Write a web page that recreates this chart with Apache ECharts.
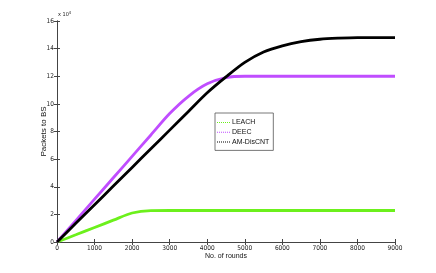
<!DOCTYPE html>
<html><head><meta charset="utf-8">
<script src="https://cdn.jsdelivr.net/npm/echarts@6/dist/echarts.min.js"></script>
<style>html,body{margin:0;padding:0;background:#fff}#c{width:436px;height:273px}</style>
</head><body><div id="c"></div>
<script>
// values in units of 10^4 packets
const rounds = [0, 500, 1000, 1500, 2000, 2500, 3000, 3500, 4000, 4500, 5000, 5500, 6000, 6500, 7000, 7500, 8000, 8500, 9000];
const leach  = [0, 0.52, 1.05, 1.58, 2.1, 2.27, 2.28, 2.28, 2.28, 2.28, 2.28, 2.28, 2.28, 2.28, 2.28, 2.28, 2.28, 2.28, 2.28];
const deec   = [0, 1.55, 3.1, 4.65, 6.2, 7.75, 9.3, 10.55, 11.45, 11.9, 12.0, 12.0, 12.0, 12.0, 12.0, 12.0, 12.0, 12.0, 12.0];
const amdis  = [0, 1.35, 2.7, 4.05, 5.4, 6.75, 8.1, 9.45, 10.8, 11.95, 13.0, 13.75, 14.2, 14.5, 14.68, 14.76, 14.8, 14.8, 14.8];
const yTicks = [0, 2, 4, 6, 8, 10, 12, 14, 16];
const xTicks = [0, 1000, 2000, 3000, 4000, 5000, 6000, 7000, 8000, 9000];
const names = ['LEACH', 'DEEC', 'AM-DisCNT'];
const colors = ['#6cf01c', '#c04dff', '#000000'];

const F = "'Liberation Sans Narrow','DejaVu Sans Condensed','Liberation Sans',sans-serif";
const axisCol = '#444';
const pair = arr => rounds.map((r, i) => [r, arr[i]]);
const dotIcon = 'path://M0,0h1v1h-1zM2,0h1v1h-1zM4,0h1v1h-1zM6,0h1v1h-1zM8,0h1v1h-1zM10,0h1v1h-1zM12,0h1v1h-1z';

const chart = echarts.init(document.getElementById('c'));
const baseX = {
  type: 'value', min: xTicks[0], max: xTicks[xTicks.length - 1], interval: 1000,
  axisLine: { show: true, lineStyle: { color: axisCol, width: 1 } },
  axisTick: { show: true, inside: true, length: 3, lineStyle: { color: axisCol } },
  splitLine: { show: false }
};
const baseY = {
  type: 'value', min: yTicks[0], max: yTicks[yTicks.length - 1], interval: 2,
  axisLine: { show: true, lineStyle: { color: axisCol, width: 1 } },
  axisTick: { show: true, inside: true, length: 3, lineStyle: { color: axisCol } },
  splitLine: { show: false }
};
chart.setOption({
  animation: false,
  backgroundColor: '#fff',
  grid: { left: 57, top: 21, right: 41, bottom: 31 },
  xAxis: [
    Object.assign({}, baseX, {
      position: 'bottom', name: 'No. of rounds', nameLocation: 'middle', nameGap: 11,
      nameMoveOverlap: false,
      nameTextStyle: { fontFamily: 'Liberation Sans', fontSize: 7, color: '#111' },
      axisLabel: { fontFamily: F, fontSize: 6.5, color: '#222', margin: 3, formatter: v => String(v) }
    }),
    Object.assign({}, baseX, { position: 'top', axisLabel: { show: false } })
  ],
  yAxis: [
    Object.assign({}, baseY, {
      position: 'left', name: 'Packets to BS', nameLocation: 'middle', nameGap: 9,
      nameMoveOverlap: false,
      nameTextStyle: { fontFamily: 'Liberation Sans', fontSize: 8, color: '#111' },
      axisLabel: { fontFamily: F, fontSize: 6.5, color: '#222', margin: 3 }
    }),
    Object.assign({}, baseY, { position: 'right', axisLabel: { show: false } })
  ],
  legend: {
    orient: 'vertical', left: 215, top: 113,
    data: names.map(n => ({ name: n, icon: dotIcon })),
    backgroundColor: '#fff', borderColor: '#555', borderWidth: 0.8,
    padding: [6, 4, 5, 2], itemGap: 2.7, itemWidth: 13, itemHeight: 8,
    textStyle: { fontFamily: 'Liberation Sans', fontSize: 7, color: '#111', padding: [0, 0, 0, -3] }
  },
  graphic: [{
    type: 'text', left: 58, top: 11,
    style: {
      text: '{a|x 10}{b|4}',
      rich: {
        a: { fontFamily: F, fontSize: 5.5, fill: '#222' },
        b: { fontFamily: F, fontSize: 4, fill: '#222', verticalAlign: 'top', padding: [0, 0, 4, 0] }
      }
    }
  }],
  series: names.map((n, i) => ({
    name: n, type: 'line', symbol: 'none',
    smooth: 0.3,
    data: pair([leach, deec, amdis][i]),
    lineStyle: { color: colors[i], width: 2.8 },
    itemStyle: { color: colors[i] },
    z: i === 2 ? 3 : 2
  }))
});
</script></body></html>
